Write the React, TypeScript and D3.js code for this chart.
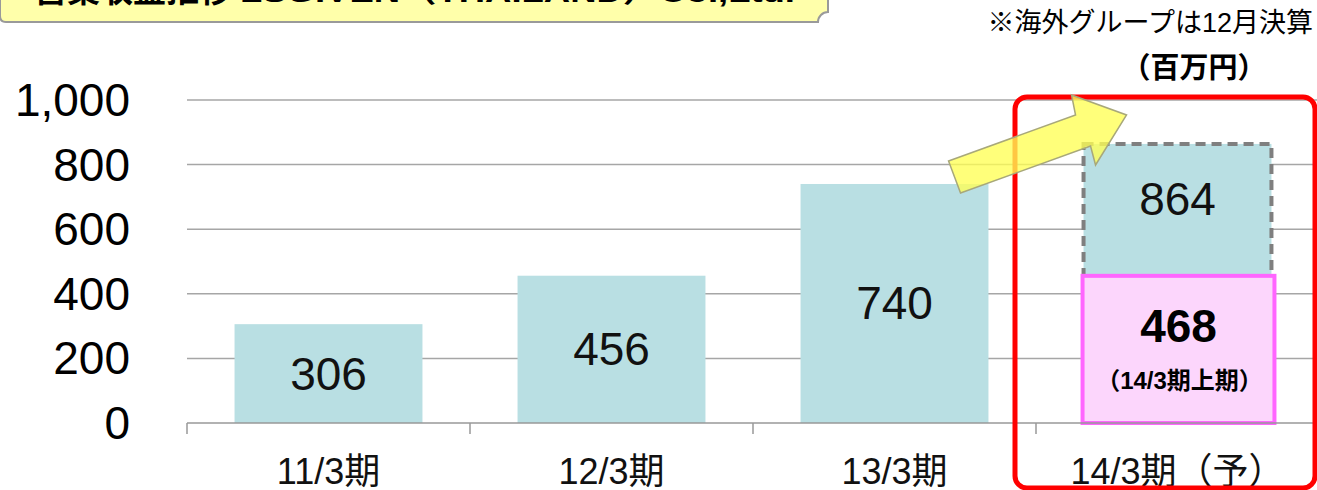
import React, { useEffect } from "react";
import * as d3 from "d3";

const categories = ["11/3期", "12/3期", "13/3期", "14/3期（予）"];
const values = [306, 456, 740, 864];
const halfValue = 468;
const halfLabel = "（14/3期上期）";
const yTicks = [0, 200, 400, 600, 800, 1000];
const noteText = "※海外グループは12月決算";
const unitText = "（百万円）";
const titleMain = "営業収益推移";
const titleSub = "LSGIVEN（THAILAND）Co.,Ltd.";

const W = 1317;
const H = 490;
const FONT = "'Liberation Sans', Arial, 'Noto Sans CJK JP', sans-serif";

export default function App() {
  useEffect(() => {
    document.body.style.margin = "0";
  }, []);

  const x = d3.scaleBand<string>().domain(categories).range([187, 1319]).paddingInner(0.336).paddingOuter(0.168);
  const xb = d3.scaleBand<string>().domain(categories).range([187, 1319]);
  const y = d3.scaleLinear().domain([0, 1000]).range([423, 100]);
  const bw = x.bandwidth();

  const lastCat = categories[3];
  const x4 = x(lastCat)!;
  const b4 = xb(lastCat)!;
  const yTop = y(1000);
  const arrowPts: [number, number][] = [
    [-135, 61], [-8, 15], [-12, -5], [43, 15], [12, 65], [7, 46], [-123, 93],
  ].map(([dx, dy]) => [x4 + dx, yTop + dy]);

  return (
    <svg width={W} height={H} style={{ display: "block", fontFamily: FONT }}>
      <rect x={0} y={0} width={W} height={H} fill="#fff" />
      {/* title box (cut off at top) */}
      <path d="M0,-10 H828 V12 A10,10 0 0 0 818,22 H6 Q0,22 0,16 Z" fill="#ffffaa" stroke="#9a9a9a" strokeWidth={2} />
      <text x={34} y={2} fontSize={33} fontWeight="bold" fill="#000">{titleMain}</text>
      <text x={240} y={2} fontSize={30} fontWeight="bold" fill="#000" textLength={555} lengthAdjust="spacingAndGlyphs">{titleSub}</text>

      {/* note and unit */}
      <text x={1313} y={23} fontSize={27} textAnchor="end" dominantBaseline="central" fill="#000">{noteText}</text>
      <text x={1194} y={68} fontSize={29} fontWeight="bold" textAnchor="middle" dominantBaseline="central" fill="#000">{unitText}</text>

      {/* gridlines */}
      {yTicks.filter((t) => t > 0).map((t) => (
        <line key={t} x1={187} x2={1317} y1={y(t)} y2={y(t)} stroke="#a6a6a6" strokeWidth={1.5} />
      ))}
      {/* y labels */}
      {yTicks.map((t) => (
        <text key={"l" + t} x={130} y={y(t)} fontSize={46} textAnchor="end" dominantBaseline="central" fill="#000">
          {d3.format(",")(t)}
        </text>
      ))}

      {/* bars */}
      {values.slice(0, 3).map((v, i) => (
        <g key={i}>
          <rect x={x(categories[i])!} y={y(v)} width={bw} height={y(0) - y(v)} fill="#b9dfe3" />
          <text x={x(categories[i])! + bw / 2} y={(y(v) + y(0)) / 2} fontSize={46} textAnchor="middle" dominantBaseline="central" fill="#111">
            {v}
          </text>
        </g>
      ))}
      {/* forecast bar */}
      <rect x={x4} y={y(values[3])} width={bw} height={y(0) - y(values[3])} fill="#b9dfe3" stroke="#7f7f7f" strokeWidth={4} strokeDasharray="10,6" />
      <text x={x4 + bw / 2} y={y(values[3]) + 55} fontSize={46} textAnchor="middle" dominantBaseline="central" fill="#111">
        {values[3]}
      </text>
      <rect x={x4 - 1} y={y(halfValue) + 4} width={bw + 4} height={y(0) - y(halfValue) - 4} fill="#fcd6fc" stroke="#ff66ff" strokeWidth={4} />
      <text x={x4 + bw / 2 + 1} y={326} fontSize={46} fontWeight="bold" textAnchor="middle" dominantBaseline="central" fill="#000">
        {halfValue}
      </text>
      <text x={x4 + bw / 2 + 2} y={380} fontSize={24} fontWeight="bold" textAnchor="middle" dominantBaseline="central" fill="#000">
        {halfLabel}
      </text>

      {/* axis */}
      <line x1={187} x2={1317} y1={y(0)} y2={y(0)} stroke="#999" strokeWidth={1.5} />
      {categories.map((c) => (
        <line key={"t" + c} x1={xb(c)!} x2={xb(c)!} y1={y(0)} y2={y(0) + 11} stroke="#999" strokeWidth={1.5} />
      ))}
      {categories.map((c) => (
        <text key={"c" + c} x={xb(c)! + xb.bandwidth() / 2} y={471} fontSize={36} textAnchor="middle" dominantBaseline="central" fill="#111">
          {c}
        </text>
      ))}

      {/* red highlight box */}
      <rect x={b4 - 21} y={97} width={1315 - (b4 - 21)} height={488 - 97} rx={12} fill="none" stroke="#ff0000" strokeWidth={5} />

      {/* arrow */}
      <polygon points={arrowPts.map((p) => p.join(",")).join(" ")} fill="#ffff55" fillOpacity={0.78} stroke="#a8a87a" strokeWidth={1.5} />
    </svg>
  );
}
